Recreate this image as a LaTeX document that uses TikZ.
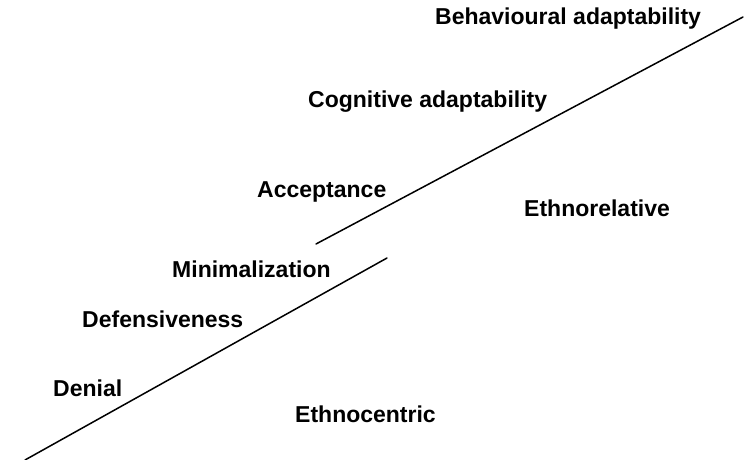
\documentclass[tikz,border=0pt]{standalone}
\usepackage{fontspec}
\setmainfont{Liberation Sans}
\begin{document}
\begin{tikzpicture}[x=1pt,y=-1pt,
  stage/.style={anchor=base west,inner sep=0pt,font=\fontsize{23}{27}\selectfont\bfseries},
  divider/.style={line width=1.5pt,line cap=round}]
\useasboundingbox (0,0) rectangle (745,460);
% stage labels
\node[stage] (behav) at (435,25) {Behavioural adaptability};
\node[stage] (cogn) at (308,107) {Cognitive adaptability};
\node[stage] (accept) at (257,197) {Acceptance};
\node[stage] (ethrel) at (524,216) {Ethnorelative};
\node[stage] (minim) at (172,277) {Minimalization};
\node[stage] (defens) at (82,327) {Defensiveness};
\node[stage] (denial) at (53,396) {Denial};
\node[stage] (ethcen) at (295,422) {Ethnocentric};
% the two dividing lines
\coordinate (lowA) at (25,460);
\coordinate (lowB) at (387,258);
\coordinate (upA) at (316,244);
\coordinate (upB) at (743,17);
\draw[divider] (lowA) -- (lowB);
\draw[divider] (upA) -- (upB);
\end{tikzpicture}
\end{document}
